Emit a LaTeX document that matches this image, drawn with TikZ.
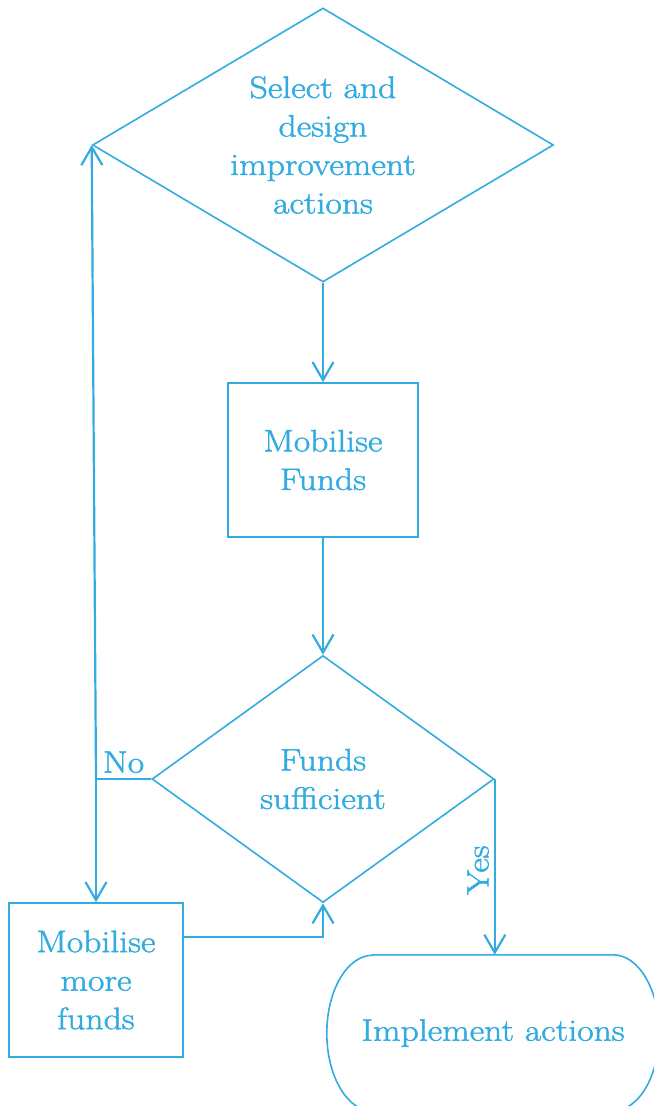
\documentclass[tikz,border=0pt]{standalone}
\usepackage{fontspec}
\setmainfont{Latin Modern Roman}[FakeStretch=1.15,FakeBold=1.6]
\usetikzlibrary{shapes.geometric,arrows.meta}
\definecolor{flowblue}{RGB}{50,172,224}
\tikzset{
  shapeline/.style={draw=flowblue,line width=1.6pt},
  flowtext/.style={text=flowblue,font=\fontsize{31}{38.5}\selectfont,align=center},
  decision/.style={diamond,shapeline,inner sep=0pt,aspect=1.6},
  process/.style={rectangle,shapeline,flowtext,inner sep=0pt},
  conn/.style={draw=flowblue,line width=2.2pt,-{Straight Barb[length=18pt,width=21pt,line width=2.2pt]}},
  plainconn/.style={draw=flowblue,line width=2.2pt},
}
\begin{document}
\begin{tikzpicture}[x=1pt,y=-1pt]
\useasboundingbox (0,0) rectangle (654,1106);
\clip (0,0) rectangle (654,1106);

% decisions
\node[decision,minimum width=461pt,minimum height=274pt,
      label={[flowtext]center:Select and\\design\\improvement\\actions}] (select) at (323,145) {};
\node[decision,minimum width=342pt,minimum height=247pt,
      label={[flowtext]center:Funds\\sufficient}] (enough) at (323,779) {};

% processes
\node[process,minimum width=190pt,minimum height=154pt] (funds) at (323,460) {Mobilise\\Funds};
\node[process,minimum width=174pt,minimum height=154pt] (more) at (96,980) {Mobilise\\more\\funds};

% terminal with elliptical ends
\node[flowtext,minimum width=332pt,minimum height=156pt,inner sep=0pt] (impl) at (493,1033) {Implement actions};
\draw[shapeline] ([xshift=46pt]impl.north west) -- ([xshift=-46pt]impl.north east)
  arc[start angle=90,end angle=-90,x radius=46pt,y radius=78pt]
  -- ([xshift=46pt]impl.south west)
  arc[start angle=270,end angle=90,x radius=46pt,y radius=78pt] -- cycle;

% main flow
\draw[conn] (select.south) -- (funds.north);
\draw[conn] (funds.south) -- (enough.north);

% "No" branch
\coordinate (nojoin) at (96,779);
\draw[plainconn] (enough.west) -- node[flowtext,above,inner sep=2pt,yshift=3pt] (nolabel) {No} (nojoin);
\draw[conn] (nojoin) -- (select.west);
\draw[conn] (nojoin) -- (more.north);
\draw[conn] ([yshift=43pt]more.east) -| (enough.south);

% "Yes" branch
\draw[conn] (enough.east) -- (enough.east |- impl.north);
\node[flowtext,rotate=90] (yeslabel) at (478,870) {Yes};
\end{tikzpicture}
\end{document}
